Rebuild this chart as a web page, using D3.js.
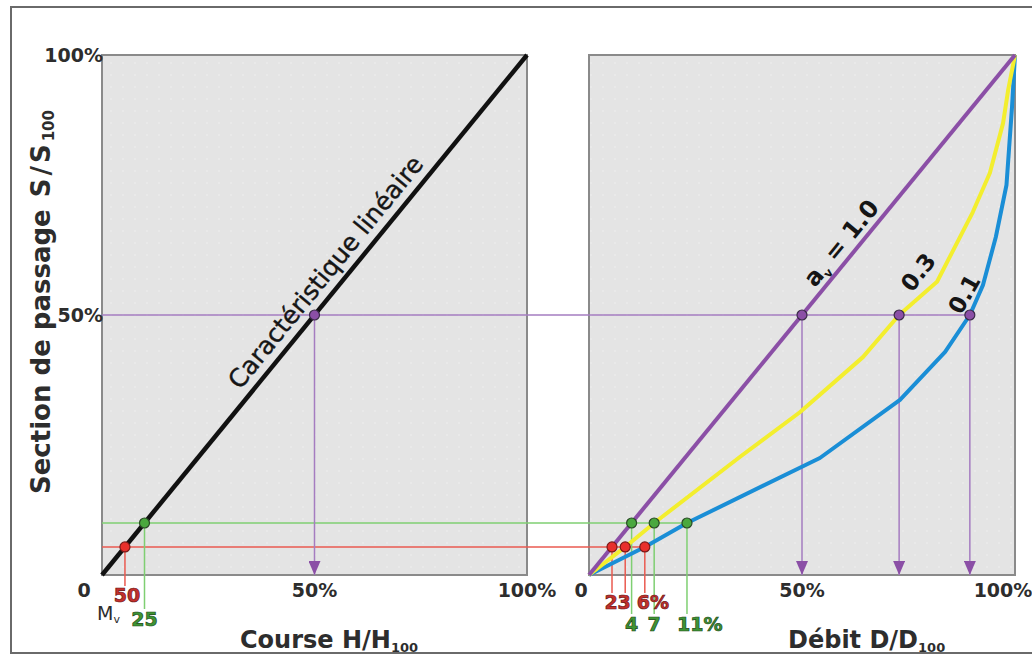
<!DOCTYPE html>
<html>
<head>
<meta charset="utf-8">
<script src="https://d3js.org/d3.v7.min.js"></script>
<style>
  body { margin: 0; background: #fff; }
  text { font-family: "DejaVu Sans", Arial, sans-serif; }
</style>
</head>
<body>
<svg width="1032" height="655"></svg>
<script>
  // values (percent)
  const tickValues = [0, 50, 100];
  const tickLabels = ["0", "50%", "100%"];
  const linearLine = [[0, 0], [100, 100]];               // S vs H
  const curveA10 = [[0, 0], [100, 100]];                  // S vs D, a_v = 1.0
  const curveA03 = [[0, 0], [8.5, 5.4], [15.3, 10], [35.4, 22.7], [49.5, 31.3], [64.3, 41.9],
                    [72.8, 50], [81.7, 56.4], [90.1, 69.8], [94.1, 77.3], [97.2, 86.9], [98.4, 93.3], [100, 100]];
  const curveA01 = [[0, 0], [13.1, 5.4], [23, 10], [54.2, 22.5], [73, 33.7], [83.6, 42.9],
                    [89.4, 50], [92.5, 55.8], [95.5, 65], [98, 75], [99.3, 90], [100, 100]];
  const sHalf = 50, sGreen = 10, sRed = 5.4;
  const halfD = [50, 72.8, 89.4];
  const greenD = [10, 15.3, 23];
  const redD = [5.4, 8.5, 13.1];
  const greenLabels = ["4", "7", "11%"];
  const redLabels = ["2", "3", "6%"];
  const curveLabels = ["1.0", "0.3", "0.1"];

  const svg = d3.select("svg");
  const panelTop = 55, panelBottom = 575;
  const xL = d3.scaleLinear().domain([0, 100]).range([102, 527]);
  const xR = d3.scaleLinear().domain([0, 100]).range([589, 1015]);
  const y = d3.scaleLinear().domain([0, 100]).range([panelBottom, panelTop]);

  const purple = "#8b4fa6", purpleThin = "#a57cc0", yellow = "#f3ee2e", blue = "#1a8ed6";
  const greenThin = "#7fcf72", redThin = "#ea5a50";
  const textCol = "#2d2d2d";

  // dotted texture
  const defs = svg.append("defs");
  const pat = defs.append("pattern").attr("id", "dots").attr("width", 12).attr("height", 12)
    .attr("patternUnits", "userSpaceOnUse");
  pat.append("rect").attr("width", 12).attr("height", 12).attr("fill", "#e4e4e4");
  pat.append("circle").attr("cx", 3).attr("cy", 3).attr("r", 0.8).attr("fill", "#f0f0f0");
  defs.append("marker").attr("id", "arrow").attr("viewBox", "0 0 12 14")
    .attr("refX", 6).attr("refY", 14).attr("markerWidth", 12).attr("markerHeight", 14)
    .attr("markerUnits", "userSpaceOnUse").attr("orient", "0")
    .append("path").attr("d", "M0,0L12,0L6,14Z").attr("fill", purple);

  // outer frame
  svg.append("rect").attr("x", 11).attr("y", 7).attr("width", 1040).attr("height", 646)
    .attr("fill", "none").attr("stroke", "#6a6a6a").attr("stroke-width", 2);

  // panels
  [xL, xR].forEach(x => {
    svg.append("rect").attr("x", x(0)).attr("y", y(100))
      .attr("width", x(100) - x(0)).attr("height", y(0) - y(100))
      .attr("fill", "url(#dots)").attr("stroke", "#8a8a8a").attr("stroke-width", 2);
  });

  const line = x => d3.line().x(d => x(d[0])).y(d => y(d[1]));

  // horizontal guides
  svg.append("line").attr("x1", xL(0)).attr("x2", xR(halfD[2])).attr("y1", y(sHalf)).attr("y2", y(sHalf))
    .attr("stroke", purpleThin).attr("stroke-width", 1.5);
  svg.append("line").attr("x1", xL(0)).attr("x2", xR(greenD[2])).attr("y1", y(sGreen)).attr("y2", y(sGreen))
    .attr("stroke", greenThin).attr("stroke-width", 1.5);
  svg.append("line").attr("x1", xL(0)).attr("x2", xR(redD[2])).attr("y1", y(sRed)).attr("y2", y(sRed))
    .attr("stroke", redThin).attr("stroke-width", 1.5);

  // vertical guides
  const vGuide = (x, y1, y2, col, arrow) => {
    const l = svg.append("line").attr("x1", x).attr("x2", x).attr("y1", y1).attr("y2", y2)
      .attr("stroke", col).attr("stroke-width", 1.5);
    if (arrow) l.attr("marker-end", "url(#arrow)");
  };
  vGuide(xL(sHalf), y(sHalf), y(0), purpleThin, true);
  halfD.forEach(d => vGuide(xR(d), y(sHalf), y(0), purpleThin, true));
  vGuide(xL(sGreen), y(sGreen), 609, greenThin);
  vGuide(xL(sRed), y(sRed), 586, redThin);
  greenD.forEach(d => vGuide(xR(d), y(sGreen), 614, greenThin));
  redD.forEach(d => vGuide(xR(d), y(sRed), 593, redThin));

  // curves
  svg.append("path").attr("d", line(xL)(linearLine)).attr("fill", "none")
    .attr("stroke", "#111").attr("stroke-width", 4.5);
  [[curveA01, blue], [curveA03, yellow], [curveA10, purple]].forEach(([c, col]) => {
    svg.append("path").attr("d", line(xR)(c)).attr("fill", "none")
      .attr("stroke", col).attr("stroke-width", 4).attr("stroke-linejoin", "round");
  });

  // markers
  const dot = (cx, cy, fill, stroke) => svg.append("circle").attr("cx", cx).attr("cy", cy).attr("r", 5)
    .attr("fill", fill).attr("stroke", stroke).attr("stroke-width", 1.2);
  dot(xL(sHalf), y(sHalf), purple, "#3a2a48");
  halfD.forEach(d => dot(xR(d), y(sHalf), purple, "#3a2a48"));
  dot(xL(sGreen), y(sGreen), "#4aa83e", "#2a4a26");
  greenD.forEach(d => dot(xR(d), y(sGreen), "#4aa83e", "#2a4a26"));
  dot(xL(sRed), y(sRed), "#e8302c", "#7a1a18");
  redD.forEach(d => dot(xR(d), y(sRed), "#e8302c", "#7a1a18"));

  // tick labels
  const tickFont = t => t.attr("font-size", 19).attr("font-weight", "bold").attr("fill", textCol);
  tickValues.forEach((v, i) => {
    if (v > 0) {
      svg.append("text").attr("x", xL(0) + 1).attr("y", y(v) + 7).attr("text-anchor", "end")
        .text(tickLabels[i]).call(tickFont);
      svg.append("text").attr("x", xL(v)).attr("y", 597).attr("text-anchor", "middle")
        .text(tickLabels[i]).call(tickFont);
      svg.append("text").attr("x", v === 100 ? xR(v) - 12 : xR(v)).attr("y", 597).attr("text-anchor", "middle")
        .text(tickLabels[i]).call(tickFont);
    } else {
      svg.append("text").attr("x", xL(0) - 18).attr("y", 597).attr("text-anchor", "middle")
        .text(tickLabels[i]).call(tickFont);
      svg.append("text").attr("x", xR(0) - 8).attr("y", 597).attr("text-anchor", "middle")
        .text(tickLabels[i]).call(tickFont);
    }
  });

  // small value labels
  const valFont = (t, fill, stroke) => t.attr("font-size", 19).attr("font-weight", "bold")
    .attr("fill", fill).attr("stroke", stroke).attr("stroke-width", 0.7).attr("text-anchor", "middle");
  svg.append("text").attr("x", xL(sRed) + 2).attr("y", 602).text("50").call(valFont, "#c4302c", "#6a1616");
  svg.append("text").attr("x", xL(sGreen)).attr("y", 626).text("25").call(valFont, "#3e9434", "#1f4a1a");
  const mv = svg.append("text").attr("x", 97).attr("y", 620)
    .attr("font-size", 19).attr("fill", textCol);
  mv.append("tspan").text("M");
  mv.append("tspan").attr("font-size", 11).attr("dy", 3).text("v");
  redD.forEach((d, i) => {
    const t = svg.append("text").attr("x", i === 2 ? xR(d) - 8 : xR(d) - 1).attr("y", 609).text(redLabels[i])
      .call(valFont, "#c4302c", "#6a1616");
    if (i === 2) t.attr("text-anchor", "start");
  });
  greenD.forEach((d, i) => {
    const t = svg.append("text").attr("x", i === 2 ? xR(d) - 10 : xR(d)).attr("y", 631).text(greenLabels[i])
      .call(valFont, "#3e9434", "#1f4a1a");
    if (i === 2) t.attr("text-anchor", "start");
  });

  // axis titles
  const yt = svg.append("text").attr("transform", "translate(50,494) rotate(-90)")
    .attr("font-size", 26).attr("font-weight", "bold").attr("fill", textCol);
  yt.append("tspan").text("Section de passage");
  yt.append("tspan").attr("dx", 12).attr("letter-spacing", 3).text("S/S");
  yt.append("tspan").attr("font-size", 15).attr("dy", 4).text("100");
  [["Course H/H", 240], ["Débit D/D", 788]].forEach(([t, x0]) => {
    const xt = svg.append("text").attr("x", x0).attr("y", 648)
      .attr("font-size", 24).attr("font-weight", "bold").attr("fill", textCol);
    xt.append("tspan").text(t);
    xt.append("tspan").attr("font-size", 13).attr("dy", 4).text("100");
  });

  // curve labels
  const ang = -Math.atan2(y(0) - y(100), xL(100) - xL(0)) * 180 / Math.PI;
  svg.append("text").attr("transform", `translate(${xL(56)},${y(56)}) rotate(${ang})`)
    .attr("y", -10).attr("text-anchor", "middle").attr("font-size", 25).attr("fill", "#151515")
    .attr("stroke", "#151515").attr("stroke-width", 0.4)
    .text("Caractéristique linéaire");

  const a1 = svg.append("text").attr("transform", `translate(${xR(62)},${y(62)}) rotate(${ang})`)
    .attr("y", -7).attr("text-anchor", "middle").attr("font-size", 24).attr("font-weight", "bold").attr("fill", "#151515");
  a1.append("tspan").text("a");
  a1.append("tspan").attr("font-size", 12).attr("dy", 5).text("v");
  a1.append("tspan").attr("dy", -5).text(" = " + curveLabels[0]);

  svg.append("text").attr("transform", `translate(918,272) rotate(-52)`)
    .attr("dy", "0.36em").attr("text-anchor", "middle").attr("font-size", 23).attr("font-weight", "bold").attr("fill", "#151515")
    .text(curveLabels[1]);
  svg.append("text").attr("transform", `translate(964,294) rotate(-60)`)
    .attr("dy", "0.36em").attr("text-anchor", "middle").attr("font-size", 23).attr("font-weight", "bold").attr("fill", "#151515")
    .text(curveLabels[2]);
</script>
</body>
</html>
